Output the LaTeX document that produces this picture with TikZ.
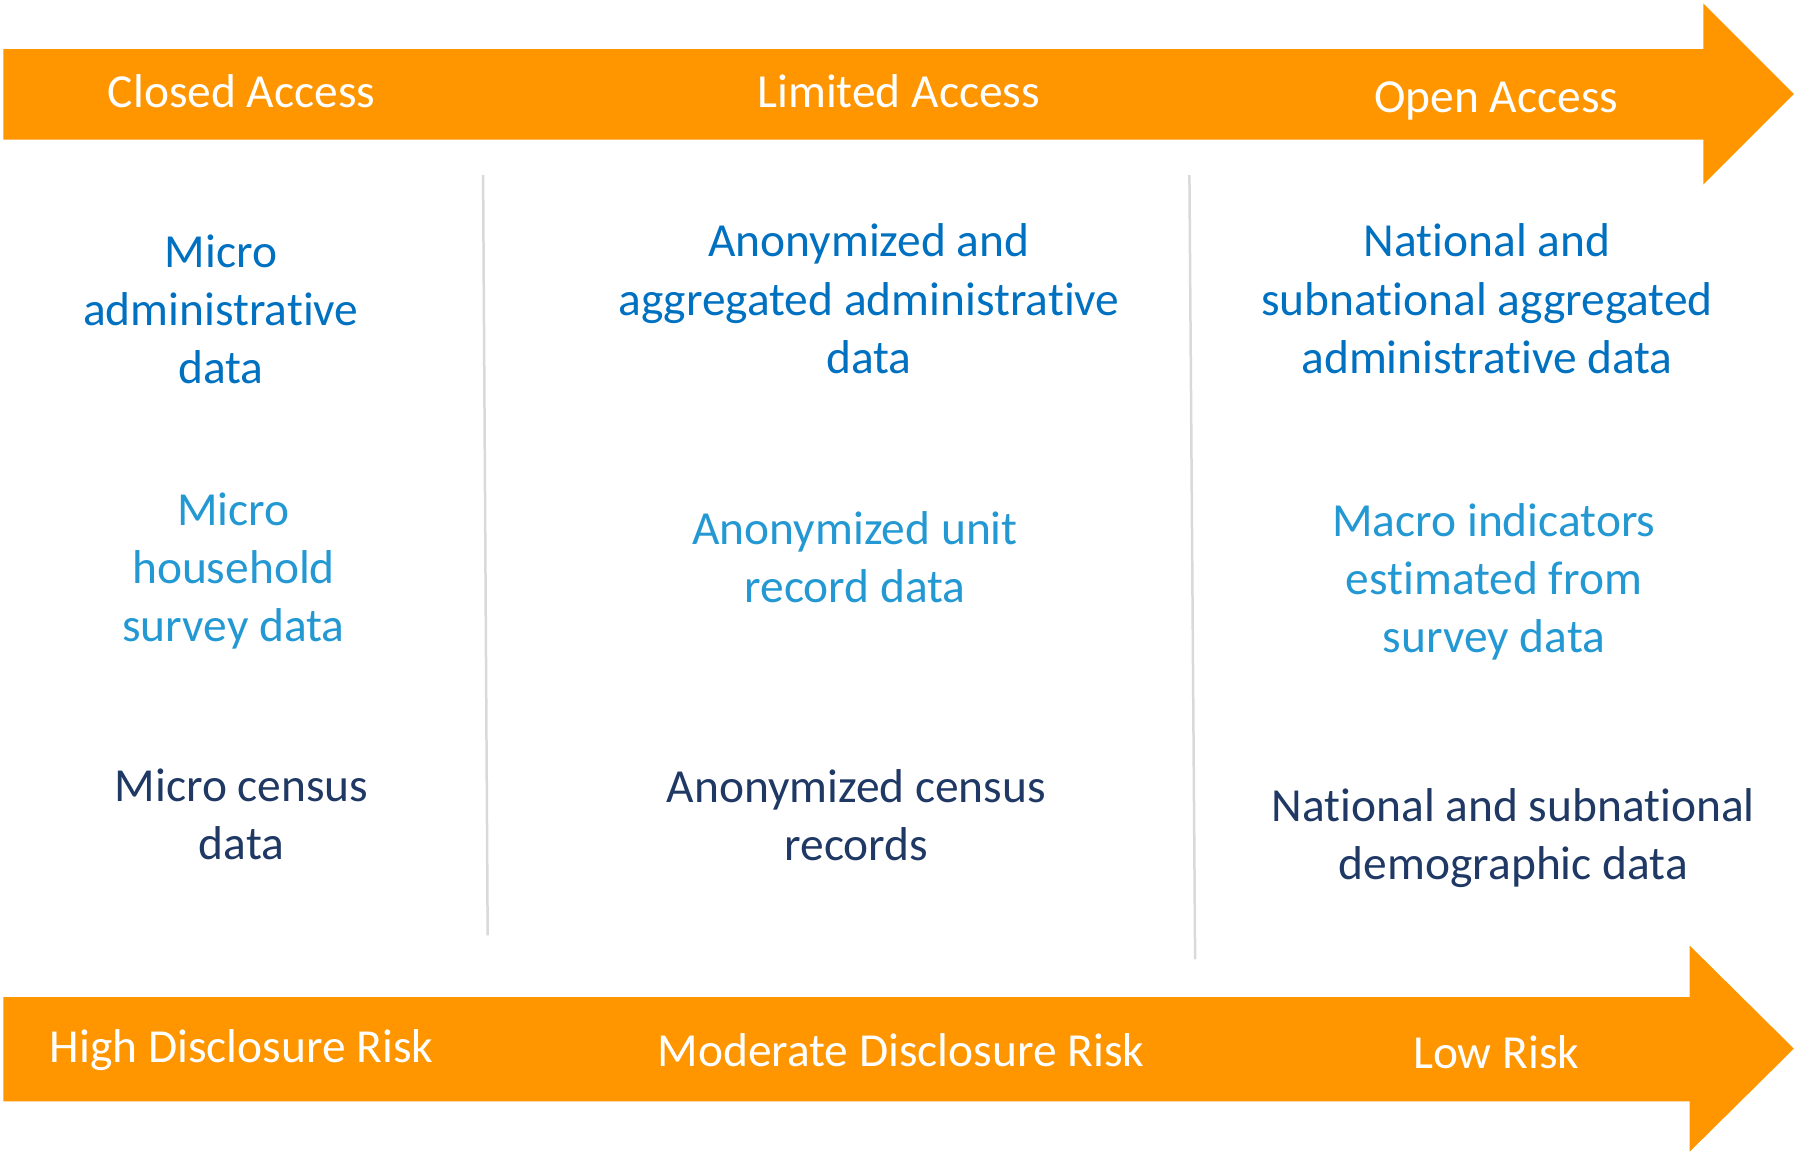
\documentclass[tikz,border=0pt]{standalone}
\usepackage{fontspec}
\setmainfont[Ligatures=NoCommon]{Carlito}
\definecolor{arroworange}{HTML}{FF9600}
\definecolor{blueA}{HTML}{0070C0}
\definecolor{blueB}{HTML}{2398D2}
\definecolor{navy}{HTML}{1F3864}
\definecolor{sepgray}{HTML}{D9D9D9}
\begin{document}
\begin{tikzpicture}[x=0.11448mm, y=-0.11448mm,
  lbl/.style={align=center, inner sep=0pt, font=\fontsize{13.5}{16.55}\selectfont},
  head/.style={lbl, text=white},
  adm/.style={lbl, text=blueA},
  srv/.style={lbl, text=blueB},
  cen/.style={lbl, text=navy},
  sep/.style={draw=sepgray, line width=0.25mm}]
\useasboundingbox (0,0) rectangle (1568,1009);
% top arrow
\fill[arroworange] (3,43) -- (1488,43) -- (1488,3) -- (1567,82) -- (1488,161) -- (1488,122) -- (3,122) -- cycle;
% bottom arrow
\fill[arroworange] (3,871) -- (1476,871) -- (1476,826) -- (1567,916) -- (1476,1006) -- (1476,962) -- (3,962) -- cycle;
% separators
\coordinate (s1a) at (422,153);
\coordinate (s1b) at (426,817);
\coordinate (s2a) at (1039,153);
\coordinate (s2b) at (1044,838);
\draw[sep] (s1a) -- (s1b);
\draw[sep] (s2a) -- (s2b);
% headers
\node[head] (closed) at (211,80) {Closed Access};
\node[head] (limited) at (785,80) {Limited Access};
\node[head] (open) at (1307,88) {Open Access};
% column 1
\node[adm] (c1a) at (193,270) {Micro\\administrative\\data};
\node[srv] (c1b) at (204,499) {Micro\\household\\survey data};
\node[cen] (c1c) at (211,711) {Micro census\\data};
% column 2
\node[adm] (c2a) at (759,261) {Anonymized and\\aggregated administrative\\data};
\node[srv] (c2b) at (747,487) {Anonymized unit\\record data};
\node[cen] (c2c) at (748,712) {Anonymized census\\records};
% column 3
\node[adm] (c3a) at (1299,261) {National and\\subnational aggregated\\administrative data};
\node[srv] (c3b) at (1305,508) {Macro indicators\\estimated from\\survey data};
\node[cen] (c3c) at (1322,732) {National and subnational\\demographic data};
% bottom
\node[head] (high) at (211,917) {High Disclosure Risk};
\node[head] (moderate) at (787,917) {Moderate Disclosure Risk};
\node[head] (low) at (1307,919) {Low Risk};
\end{tikzpicture}
\end{document}
